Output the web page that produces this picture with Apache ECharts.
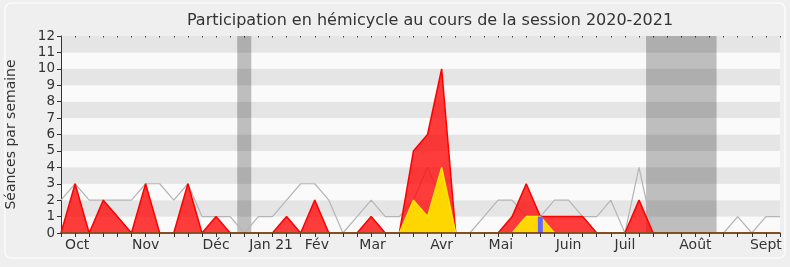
<!DOCTYPE html>
<html>
<head>
<meta charset="utf-8">
<script src="https://cdn.jsdelivr.net/npm/echarts@6/dist/echarts.min.js"></script>
<style>
html,body{margin:0;padding:0;background:#efefef;}
#chart{width:790px;height:267px;}
</style>
</head>
<body>
<div id="chart"></div>
<script>
// Weekly data, index 0..51 (weeks of the 2020-2021 session)
var weeks = [];
for (var w = 0; w <= 51; w++) weeks.push(w);

// Grey line: median weekly participation
var medianValues = [2,3,2,2,2,2,3,3,2,3,1,1,1,0,1,1,2,3,3,2,0,1,2,1,1,2,4,2,0,0,1,2,2,1,1,2,2,1,1,2,0,4,0,0,0,0,0,0,1,0,1,1];
// Red area: weekly sessions attended
var presenceValues = [0,3,0,2,1,0,3,0,0,3,0,1,0,0,0,0,1,0,2,0,0,0,1,0,0,5,6,10,0,0,0,0,1,3,1,1,1,1,0,0,0,2,0,0,0,0,0,0,0,0,0,0];
// Yellow area: weekly interventions
var interventionValues = [0,0,0,0,0,0,0,0,0,0,0,0,0,0,0,0,0,0,0,0,0,0,0,0,0,2,1,4,0,0,0,0,0,1,1,0,0,0,0,0,0,0,0,0,0,0,0,0,0,0,0,0];
// Blue bar: questions
var questionWeeks = [34];
var questionValues = [1];
// Vacation periods (week positions)
var vacationStart = [12.5, 41.5];
var vacationEnd = [13.5, 46.5];
// Month tick labels
var monthLabels = ['Oct','Nov','Déc','Jan 21','Fév','Mar','Avr','Mai','Juin','Juil','Août','Sept'];
var monthPositions = [1.15, 6, 11, 14.9, 18.15, 22.1, 27, 31.2, 36, 40, 45, 50];
var yTicks = [0,1,2,3,4,5,6,7,8,9,10,11,12];

function pairs(xs, ys){ return xs.map(function(x,i){ return [x, ys[i]]; }); }

var FONT = 'DejaVu Sans';
var chart = echarts.init(document.getElementById('chart'), null, {renderer:'canvas'});
chart.setOption({
  backgroundColor: '#efefef',
  animation: false,
  title: {
    text: 'Participation en hémicycle au cours de la session 2020-2021',
    left: 425, textAlign: 'center', top: 8,
    textStyle: {fontFamily: FONT, fontSize: 16, fontWeight: 'normal', color: '#333'}
  },
  graphic: [{
    type: 'rect', silent: true, z: -1,
    shape: {x: 5, y: 3, width: 780, height: 255, r: 6},
    style: {fill: null, stroke: '#fbfbfb', lineWidth: 1.5}
  }],
  grid: {left: 61, right: 10, top: 36, bottom: 34, outerBoundsMode: 'none', containLabel: false},
  xAxis: [{
    type: 'value', min: 0, max: 51, interval: 1, position: 'bottom', z: 10,
    axisLine: {show: true, lineStyle: {color: '#5b2b2b', width: 1.5}},
    axisTick: {show: true, length: 4, lineStyle: {color: '#333'}},
    axisLabel: {
      customValues: monthPositions,
      fontFamily: FONT, fontSize: 14, color: '#333', margin: 5,
      formatter: function(v){
        for (var k = 0; k < monthPositions.length; k++) if (Math.abs(monthPositions[k]-v) < 1e-6) return monthLabels[k];
        return '';
      }
    },
    splitLine: {show: false}
  }, {
    type: 'value', min: 0, max: 51, interval: 1, position: 'top',
    axisLine: {show: false},
    axisTick: {show: true, inside: true, length: 1.5, lineStyle: {color: '#444'}},
    axisLabel: {show: false}, splitLine: {show: false}
  }],
  yAxis: {
    type: 'value', min: 0, max: 12, interval: 1,
    name: 'Séances par semaine', nameLocation: 'middle', nameGap: 43,
    nameTextStyle: {fontFamily: FONT, fontSize: 14, color: '#333'},
    axisLine: {show: true, lineStyle: {color: '#333'}},
    axisTick: {show: true, length: 4, lineStyle: {color: '#333'}},
    axisLabel: {fontFamily: FONT, fontSize: 13.5, color: '#333', margin: 6,
      formatter: function(v){ return yTicks.indexOf(v) >= 0 ? String(v) : ''; }},
    splitLine: {show: false},
    splitArea: {show: true, areaStyle: {color: ['#fafafa', '#e5e5e5']}}
  },
  series: [{
    type: 'line', data: [], z: 1, silent: true,
    markArea: {
      silent: true,
      itemStyle: {color: 'rgba(0,0,0,0.24)'},
      data: vacationStart.map(function(s, i){ return [{xAxis: s}, {xAxis: vacationEnd[i]}]; })
    }
  }, {
    name: 'median', type: 'line', data: pairs(weeks, medianValues), z: 2,
    symbol: 'none', lineStyle: {color: '#b5b5b5', width: 1.2}
  }, {
    name: 'presence', type: 'line', data: pairs(weeks, presenceValues), z: 3,
    symbol: 'none', lineStyle: {color: '#ff0000', width: 1.5},
    areaStyle: {color: 'rgba(255,0,0,0.76)', opacity: 1}
  }, {
    name: 'interventions', type: 'line', data: pairs(weeks, interventionValues), z: 4,
    symbol: 'none', lineStyle: {color: '#ffe600', width: 1.5},
    areaStyle: {color: '#ffd700', opacity: 1}
  }, {
    name: 'questions', type: 'bar', data: pairs(questionWeeks, questionValues), z: 5,
    barWidth: 5, itemStyle: {color: '#6666ff'}
  }]
});
</script>
</body>
</html>
